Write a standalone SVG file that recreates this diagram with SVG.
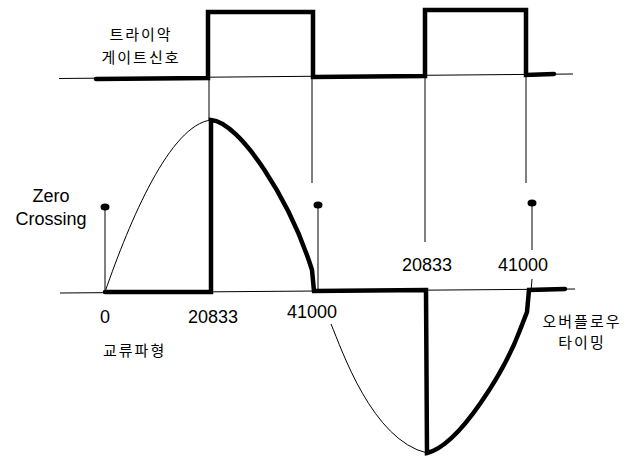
<svg xmlns="http://www.w3.org/2000/svg" width="635" height="466" viewBox="0 0 635 466">
<style>
.thin{fill:none;stroke:#000;stroke-width:1}
.thick{fill:none;stroke:#000;stroke-width:4.5;stroke-linejoin:miter;stroke-linecap:round}
.lbl{font-family:"Liberation Sans",Arial,sans-serif;font-size:18px;fill:#000}
.kr{font-family:"Noto Sans CJK KR","Noto Sans",sans-serif;font-size:15px;letter-spacing:2px;fill:#000}
.dot{fill:#000}
</style>
<rect width="635" height="466" fill="#fff"/>
<g id="connectors">
  <line class="thin" x1="59" y1="78.5" x2="573" y2="74"/>
  <line class="thin" x1="60" y1="293" x2="575" y2="289"/>
  <line class="thin" x1="209" y1="78" x2="209" y2="120"/>
  <line class="thin" x1="312" y1="77" x2="312" y2="183"/>
  <line class="thin" x1="425" y1="76" x2="425" y2="242"/>
  <line class="thin" x1="526" y1="75" x2="526" y2="183"/>
  <line class="thin" x1="105" y1="207" x2="105" y2="293"/>
  <line class="thin" x1="318" y1="205" x2="318" y2="292"/>
  <line class="thin" x1="532" y1="203" x2="532" y2="250"/>
  <line class="thin" x1="532" y1="279" x2="531" y2="292"/>
</g>
<g id="gate-signal">
  <path class="thick" d="M96,79 L208,78 L208,12 L313,12 L313,77 L425,76 L425,10 L526,10 L526,75 L554,74"/>
  <text class="kr" x="141" y="40" text-anchor="middle">트라이악</text>
  <text class="kr" x="141" y="63" text-anchor="middle">게이트신호</text>
</g>
<g id="ac-waveform">
  <path class="thin" d="M105,292 C130,220 170,125 211,120"/>
  <path class="thin" d="M331,324 C342,350 372,440 427,453"/>
  <path class="thick" d="M105,292 L211,292 L211,120 C240,122 290,200 312,270 L314,291 L426,290 L427,453 C460,445 505,370 520,330 L527,312 L529,290 L565,289"/>
  <text class="kr" x="103" y="356">교류파형</text>
</g>
<g id="zero-crossing">
  <ellipse class="dot" cx="105" cy="207" rx="4.5" ry="3.5"/>
  <ellipse class="dot" cx="318" cy="205" rx="4.5" ry="3.5"/>
  <ellipse class="dot" cx="532" cy="203" rx="4.5" ry="3.5"/>
  <text class="lbl" x="51" y="202" text-anchor="middle">Zero</text>
  <text class="lbl" x="51" y="225" text-anchor="middle">Crossing</text>
</g>
<g id="labels">
  <text class="lbl" x="105" y="323" text-anchor="middle">0</text>
  <text class="lbl" x="213" y="323" text-anchor="middle">20833</text>
  <text class="lbl" x="312" y="318" text-anchor="middle">41000</text>
  <text class="lbl" x="427" y="271" text-anchor="middle">20833</text>
  <text class="lbl" x="523" y="271" text-anchor="middle">41000</text>
</g>
<g id="overflow-timing">
  <text class="kr" x="582" y="327" text-anchor="middle">오버플로우</text>
  <text class="kr" x="582" y="348" text-anchor="middle">타이밍</text>
</g>
</svg>
